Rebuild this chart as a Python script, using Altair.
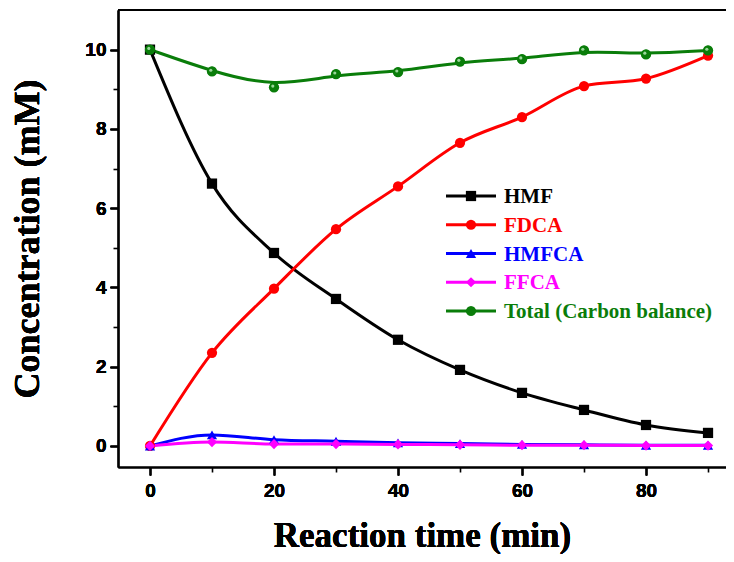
import altair as alt
import pandas as pd

time = [0, 10, 20, 30, 40, 50, 60, 70, 80, 90]
hmf = [10.0, 6.62, 4.87, 3.71, 2.68, 1.92, 1.34, 0.91, 0.53, 0.33]
fdca = [0.0, 2.35, 3.97, 5.47, 6.55, 7.65, 8.30, 9.08, 9.27, 9.85]
hmfca = [0.0, 0.28, 0.16, 0.12, 0.08, 0.06, 0.04, 0.03, 0.02, 0.02]
ffca = [0.0, 0.10, 0.05, 0.05, 0.04, 0.03, 0.02, 0.02, 0.01, 0.01]
total = [10.0, 9.45, 9.05, 9.38, 9.43, 9.70, 9.76, 9.98, 9.88, 9.98]

series = ["HMF", "FDCA", "HMFCA", "FFCA", "Total (Carbon balance)"]
colors = ["#000000", "#ff0000", "#0000ff", "#ff00ff", "#0a7d0a"]
shapes = ["square", "circle", "triangle-up", "diamond", "circle"]
values = [hmf, fdca, hmfca, ffca, total]

rows = []
for i, (s, v) in enumerate(zip(series, values)):
    for t, c in zip(time, v):
        rows.append({"series": s, "order": i, "time": t, "conc": c})
df = pd.DataFrame(rows)
leg = pd.DataFrame({"series": series, "row": list(range(len(series)))})

W, H = 608, 457
xscale = alt.Scale(domain=[-5.16, 92.9], nice=False, zero=False)
yscale = alt.Scale(domain=[-0.53, 11.0], nice=False, zero=False)
cscale = alt.Scale(domain=series, range=colors)
sscale = alt.Scale(domain=series, range=shapes)

common_ax = dict(grid=False, domainColor="black", domainWidth=1.6, tickColor="black",
                 tickWidth=1.6)
x_major = alt.Axis(values=[0, 20, 40, 60, 80], tickSize=8, labelFont="Liberation Sans",
                   labelFontWeight="bold", labelFontSize=19, labelColor="black", labelPadding=6,
                   title="Reaction time (min)", titleFont="Liberation Serif", titleFontSize=35,
                   titleFontWeight="bold", titleColor="black", titlePadding=18, format="d",
                   orient="bottom", **common_ax)
x_minor = alt.Axis(values=[10, 30, 50, 70, 90], tickSize=5, labels=False, domain=False,
                   orient="bottom", grid=False, tickColor="black", tickWidth=1.6)
y_major = alt.Axis(values=[0, 2, 4, 6, 8, 10], tickSize=8, labelFont="Liberation Sans",
                   labelFontWeight="bold", labelFontSize=19, labelColor="black", labelPadding=4,
                   title="Concentration (mM)", titleFont="Liberation Serif", titleFontSize=36,
                   titleFontWeight="bold", titleColor="black", titlePadding=38, format="d",
                   orient="left", **common_ax)
y_minor = alt.Axis(values=[1, 3, 5, 7, 9], tickSize=5, labels=False, domain=False,
                   orient="left", grid=False, tickColor="black", tickWidth=1.6)

base = alt.Chart(df)
X = alt.X("time:Q", scale=xscale, axis=x_major)
Y = alt.Y("conc:Q", scale=yscale, axis=y_major)
C = alt.Color("series:N", scale=cscale, legend=None)
S = alt.Shape("series:N", scale=sscale, legend=None)

lines_smooth = base.transform_filter(alt.datum.order < 4).mark_line(
    strokeWidth=3, interpolate="monotone").encode(x=X, y=Y, color=C, detail="series:N")
line_total = base.transform_filter(alt.datum.order == 4).mark_line(
    strokeWidth=3, interpolate="basis").encode(x=X, y=Y, color=C)
pts = base.mark_point(filled=True, opacity=1, size=105).encode(
    x=X, y=Y, color=C, shape=S, order="order:Q")
pts_total = base.transform_filter(alt.datum.order == 4).mark_point(
    filled=True, opacity=1, size=85).encode(x=X, y=Y, color=C, shape=S)
hl = base.transform_filter(alt.datum.order == 4).mark_point(
    filled=True, opacity=1, size=10, color="#9ad69a", shape="circle",
    xOffset=-1.2, yOffset=-1.2).encode(x=X, y=Y)
minor = base.mark_point(opacity=0).encode(
    x=alt.X("time:Q", scale=xscale, axis=x_minor, title=None),
    y=alt.Y("conc:Q", scale=yscale, axis=y_minor, title=None))

inner = alt.layer(lines_smooth, line_total, pts, pts_total, hl, minor).resolve_axis(
    x="independent", y="independent")

lbase = alt.Chart(leg)
LY = alt.Y("row:Q", scale=alt.Scale(domain=[0, 4], range=[186, 301]), axis=None)
LC = alt.Color("series:N", scale=cscale, legend=None)
leg_line = lbase.mark_rule(strokeWidth=3).encode(
    x=alt.value(328), x2=alt.value(378), y=LY, color=LC)
leg_pt = lbase.mark_point(filled=True, opacity=1, size=105).encode(
    x=alt.value(353), y=LY, color=LC,
    shape=alt.Shape("series:N", scale=sscale, legend=None))
leg_txt = lbase.mark_text(align="left", baseline="middle", font="Liberation Serif",
                          fontWeight="bold", fontSize=21, dy=1).encode(
    x=alt.value(386), y=LY, text="series:N", color=LC)
topline = alt.Chart(leg).mark_rule(color="black", strokeWidth=1.6).encode(
    x=alt.value(0), x2=alt.value(W), y=alt.value(0))

chart = alt.layer(inner, leg_line, leg_pt, leg_txt, topline).resolve_scale(
    y="independent").properties(
    width=W, height=H,
    autosize=alt.AutoSizeParams(type="none"),
    padding={"left": 110, "top": 2, "right": 0, "bottom": 87},
).configure_view(strokeWidth=0, stroke="transparent").configure(background="white")

chart.save("out.html", embed_options={"renderer": "svg", "actions": False})
